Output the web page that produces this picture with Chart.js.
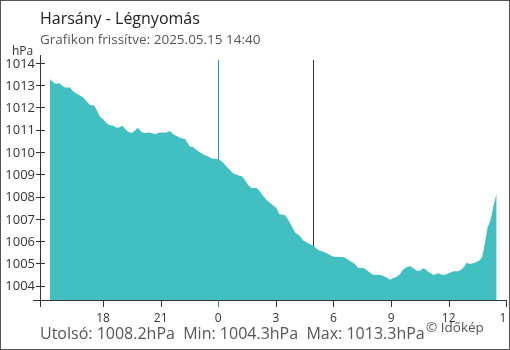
<!DOCTYPE html>
<html>
<head>
<meta charset="utf-8">
<script src="https://cdn.jsdelivr.net/npm/chart.js@4.4.1/dist/chart.umd.min.js"></script>
<style>
  html, body { margin: 0; padding: 0; background: #fff; }
  #frame { position: relative; width: 510px; height: 350px; overflow: hidden; font-family: "Open Sans", sans-serif; }
  #plot { position: absolute; left: 0; top: 0; width: 507px; height: 350px; overflow: hidden; }
  #plot canvas { position: absolute; left: 0; top: 0; }
  #edge { position: absolute; left: 0; top: 0; width: 510px; height: 350px; box-sizing: border-box; border: 1px solid #555; pointer-events: none; }
  .t { position: absolute; white-space: nowrap; line-height: 1; }
</style>
</head>
<body>
<div id="frame">
  <div id="plot"><canvas id="c" width="530" height="350" style="width:530px;height:350px"></canvas></div>
  <div class="t" style="left:40px;top:10px;font-size:16px;color:#222">Harsány - Légnyomás</div>
  <div class="t" style="left:40px;top:33px;font-size:13.5px;color:#555">Grafikon frissítve: 2025.05.15 14:40</div>
  <div class="t" style="left:12px;top:45px;font-size:12px;color:#333">hPa</div>
  <div class="t" id="stats" style="left:40px;top:325px;font-size:16px;color:#555"></div>
  <div class="t" style="left:426px;top:321px;font-size:13.5px;color:#555">© Időkép</div>
  <div id="edge"></div>
</div>
<script>
// Hours relative to midnight of 2025.05.15 (negative = previous evening)
const hours = [
  -8.77,-8.68,-8.51,-8.25,-8.16,-7.98,-7.72,-7.55,-7.38,-7.20,
  -7.03,-6.85,-6.68,-6.46,-6.33,-6.16,-5.99,-5.81,-5.64,-5.47,
  -5.29,-5.12,-5.00,-4.86,-4.69,-4.51,-4.34,-4.20,-3.99,-3.82,
  -3.56,-3.30,-3.04,-2.69,-2.52,-2.34,-2.17,-2.00,-1.73,-1.56,
  -1.47,-1.30,-1.13,-0.95,-0.69,-0.52,-0.34,-0.08,0.09,0.26,
  0.44,0.61,0.78,0.96,1.13,1.22,1.39,1.56,1.74,2.00,
  2.17,2.34,2.52,2.78,3.04,3.18,3.47,3.65,3.82,4.00,
  4.26,4.43,4.60,4.87,5.04,5.21,5.47,5.73,5.99,6.51,
  6.69,6.86,7.03,7.17,7.29,7.55,7.73,7.90,8.07,8.42,
  8.59,8.77,8.94,9.12,9.29,9.46,9.64,9.81,9.98,10.16,
  10.33,10.51,10.68,10.85,10.94,11.03,11.20,11.46,11.64,11.81,
  12.07,12.24,12.50,12.68,12.81,12.94,13.11,13.37,13.63,13.75,
  13.85,13.93,14.03,14.15,14.24,14.32,14.41,14.50
];

// Air pressure, hPa
const pressure = [
  1013.33,1013.25,1013.12,1013.12,1013.04,1012.94,1012.94,1012.76,1012.67,1012.58,
  1012.49,1012.31,1012.16,1012.13,1011.93,1011.63,1011.52,1011.34,1011.25,1011.22,
  1011.14,1011.16,1011.22,1011.09,1010.96,1010.90,1011.00,1011.13,1010.95,1010.90,
  1010.92,1010.84,1010.92,1010.92,1010.99,1010.84,1010.77,1010.69,1010.63,1010.39,
  1010.29,1010.26,1010.14,1010.02,1009.90,1009.84,1009.75,1009.73,1009.69,1009.57,
  1009.39,1009.24,1009.09,1009.03,1008.97,1008.97,1008.79,1008.55,1008.43,1008.43,
  1008.27,1008.07,1007.89,1007.70,1007.52,1007.25,1007.22,1007.00,1006.73,1006.43,
  1006.28,1006.07,1005.98,1005.87,1005.77,1005.65,1005.57,1005.47,1005.35,1005.33,
  1005.26,1005.15,1005.08,1004.97,1004.84,1004.84,1004.75,1004.63,1004.54,1004.54,
  1004.48,1004.42,1004.31,1004.39,1004.45,1004.56,1004.78,1004.87,1004.93,1004.83,
  1004.72,1004.72,1004.83,1004.75,1004.66,1004.63,1004.53,1004.60,1004.54,1004.54,
  1004.63,1004.69,1004.70,1004.78,1004.90,1005.08,1005.02,1005.08,1005.20,1005.35,
  1005.80,1006.17,1006.67,1006.92,1007.22,1007.59,1007.89,1008.20
];

// Hour axis ticks and their labels
const hourTicks  = [-6, -3, 0, 3, 6, 9, 12, 15];
const tickLabels = ['18', '21', '0', '3', '6', '9', '12', '15'];

// Pressure axis ticks
const pressureTicks = [1004, 1005, 1006, 1007, 1008, 1009, 1010, 1011, 1012, 1013, 1014];

// Marker lines: midnight and sunrise
const midnightHour = 0;
const sunriseHour = 4.95;

const X_MIN = -9.23, X_MAX = 15.09;
const Y_MIN = 1003.36, Y_MAX = 1014.4;

const fmt = v => v.toFixed(1) + 'hPa';
document.getElementById('stats').innerHTML =
  'Utolsó: ' + fmt(pressure[pressure.length - 1]) +
  '&nbsp;&nbsp;Min: ' + fmt(Math.min(...pressure)) +
  '&nbsp;&nbsp;Max: ' + fmt(Math.max(...pressure));

const AXIS = '#333';
const BLUE = '#1e8fe6';

// Vertical day markers, drawn beneath the filled area
const markers = {
  id: 'markers',
  beforeDatasetsDraw(chart) {
    const { ctx, chartArea: a, scales: { x } } = chart;
    ctx.save();
    ctx.lineWidth = 1;
    const mx = Math.round(x.getPixelForValue(midnightHour)) + 0.5;
    ctx.strokeStyle = BLUE;
    ctx.beginPath(); ctx.moveTo(mx, a.top + 5); ctx.lineTo(mx, a.bottom + 6); ctx.stroke();
    const sx = Math.round(x.getPixelForValue(sunriseHour)) + 0.5;
    ctx.strokeStyle = AXIS;
    ctx.beginPath(); ctx.moveTo(sx, a.top + 5); ctx.lineTo(sx, a.bottom); ctx.stroke();
    ctx.restore();
  }
};

// Axis lines with crossing tick marks
const axes = {
  id: 'axes',
  afterDraw(chart) {
    const { ctx, chartArea: a, scales: { x, y } } = chart;
    ctx.save();
    ctx.lineWidth = 1;
    ctx.strokeStyle = AXIS;
    const ax = a.left - 0.5, ay = a.bottom - 0.5;
    ctx.beginPath();
    ctx.moveTo(ax, a.top); ctx.lineTo(ax, a.bottom + 6);
    ctx.moveTo(a.left - 8, ay); ctx.lineTo(a.right, ay);
    y.ticks.forEach(t => {
      const py = Math.round(y.getPixelForValue(t.value)) - 0.5;
      ctx.moveTo(a.left - 5, py); ctx.lineTo(a.left + 4, py);
    });
    ctx.stroke();
    x.ticks.forEach(t => {
      const px = Math.round(x.getPixelForValue(t.value)) + 0.5;
      ctx.strokeStyle = t.value === midnightHour ? BLUE : AXIS;
      ctx.beginPath(); ctx.moveTo(px, ay); ctx.lineTo(px, a.bottom + 6); ctx.stroke();
    });
    ctx.restore();
  }
};

new Chart(document.getElementById('c'), {
  type: 'line',
  data: {
    datasets: [{
      data: hours.map((h, i) => ({ x: h, y: pressure[i] })),
      fill: 'start',
      backgroundColor: 'rgb(65,191,193)',
      borderWidth: 0,
      pointRadius: 0,
      tension: 0
    }]
  },
  options: {
    responsive: false,
    animation: false,
    devicePixelRatio: 1,
    layout: { padding: { top: 55, right: 22, left: 0, bottom: 0 } },
    plugins: { legend: { display: false }, tooltip: { enabled: false } },
    scales: {
      x: {
        type: 'linear', min: X_MIN, max: X_MAX,
        afterBuildTicks: s => { s.ticks = hourTicks.map(v => ({ value: v })); },
        afterFit: s => { s.height = 49; },
        grid: { display: false, drawTicks: false }, border: { display: false },
        ticks: {
          autoSkip: false, maxRotation: 0, padding: 10, color: AXIS,
          font: { family: 'Open Sans', size: 12 },
          callback: (v, i) => tickLabels[i]
        }
      },
      y: {
        min: Y_MIN, max: Y_MAX,
        afterBuildTicks: s => { s.ticks = pressureTicks.map(v => ({ value: v })); },
        afterFit: s => { s.width = 41; },
        grid: { display: false, drawTicks: false }, border: { display: false },
        ticks: {
          padding: 6, color: AXIS,
          font: { family: 'Open Sans', size: 13 },
          callback: v => String(v)
        }
      }
    }
  },
  plugins: [markers, axes]
});
</script>
</body>
</html>
